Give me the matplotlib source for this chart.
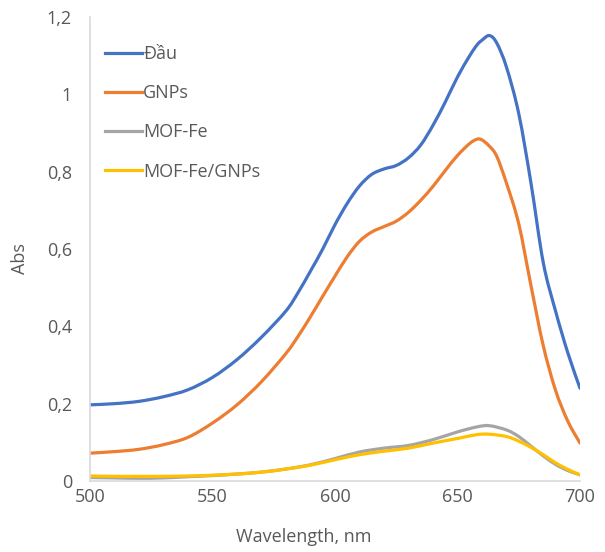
import matplotlib
matplotlib.use("Agg")
import numpy as np
import matplotlib.pyplot as plt
from matplotlib.path import Path
from matplotlib.patches import PathPatch
from matplotlib.lines import Line2D
from matplotlib.ticker import FuncFormatter, MultipleLocator

plt.rcParams['font.family'] = ['Open Sans', 'DejaVu Sans']

# wavelength grid for the two big curves
wl = [500, 510, 520, 530, 540, 550, 560, 570, 580, 585, 590, 595, 600, 605, 610,
      615, 620, 625, 630, 635, 640, 645, 650, 655, 658, 660, 663, 666, 670, 675,
      680, 685, 690, 695, 700]
dau = [0.197, 0.200, 0.206, 0.218, 0.236, 0.268, 0.314, 0.372, 0.440, 0.488,
       0.543, 0.600, 0.663, 0.718, 0.763, 0.793, 0.807, 0.816, 0.836, 0.869,
       0.920, 0.980, 1.045, 1.100, 1.128, 1.140, 1.152, 1.133, 1.070, 0.950,
       0.770, 0.565, 0.440, 0.332, 0.240]
gnps = [0.072, 0.076, 0.082, 0.094, 0.113, 0.150, 0.197, 0.257, 0.330, 0.375,
        0.425, 0.478, 0.530, 0.580, 0.620, 0.644, 0.658, 0.672, 0.695, 0.726,
        0.762, 0.803, 0.842, 0.873, 0.884, 0.882, 0.866, 0.840, 0.770, 0.665,
        0.505, 0.350, 0.235, 0.155, 0.098]

# coarser grid for the two low curves
wl_low = [500, 510, 520, 530, 540, 550, 560, 570, 580, 590, 600, 610, 620, 630,
          640, 650, 658, 663, 670, 675, 680, 685, 690, 695, 700]
mof_fe = [0.009, 0.008, 0.007, 0.008, 0.011, 0.014, 0.018, 0.023, 0.031, 0.042,
          0.058, 0.075, 0.085, 0.092, 0.107, 0.127, 0.140, 0.143, 0.132, 0.115,
          0.090, 0.065, 0.043, 0.027, 0.016]
mof_fe_gnps = [0.013, 0.012, 0.012, 0.012, 0.013, 0.015, 0.018, 0.023, 0.031,
               0.041, 0.055, 0.068, 0.077, 0.085, 0.098, 0.110, 0.120, 0.121,
               0.115, 0.103, 0.087, 0.068, 0.047, 0.030, 0.016]

series = [
    (wl, dau, 'Đầu', '#4472C4'),
    (wl, gnps, 'GNPs', '#ED7D31'),
    (wl_low, mof_fe, 'MOF-Fe', '#A5A5A5'),
    (wl_low, mof_fe_gnps, 'MOF-Fe/GNPs', '#FFC000'),
]

text_col = '#595959'
axis_col = '#d9d9d9'
fs = 13


def smooth_path(x, y):
    # Excel style smoothed line: Catmull-Rom segments as cubic Beziers
    p = np.column_stack([x, y]).astype(float)
    verts = [p[0]]
    codes = [Path.MOVETO]
    n = len(p)
    for i in range(n - 1):
        p0 = p[i - 1] if i > 0 else p[i]
        p3 = p[i + 2] if i + 2 < n else p[i + 1]
        c1 = p[i] + (p[i + 1] - p0) / 6
        c2 = p[i + 1] - (p3 - p[i]) / 6
        verts += [c1, c2, p[i + 1]]
        codes += [Path.CURVE4] * 3
    return Path(verts, codes)


fig = plt.figure(figsize=(6.05, 5.52), dpi=100)
ax = fig.add_axes([90/605, 71/552, 490/605, 464/552])

handles = []
for x, y, name, col in series:
    ax.add_patch(PathPatch(smooth_path(x, y), fill=False, edgecolor=col,
                           lw=2.3, capstyle='round'))
    handles.append(Line2D([], [], color=col, lw=2.3, label=name))

ax.set_xlim(500, 700)
ax.set_ylim(0, 1.2)
ax.xaxis.set_major_locator(MultipleLocator(50))
ax.yaxis.set_major_locator(MultipleLocator(0.2))


def comma_fmt(v, pos):
    if abs(v - round(v)) < 1e-9:
        return f"{int(round(v))}"
    return f"{v:.1f}".replace('.', ',')


ax.yaxis.set_major_formatter(FuncFormatter(comma_fmt))

for s in ['top', 'right']:
    ax.spines[s].set_visible(False)
for s in ['left', 'bottom']:
    ax.spines[s].set_color(axis_col)
    ax.spines[s].set_linewidth(1.2)

ax.tick_params(axis='both', length=0, labelsize=fs, colors=text_col)
ax.tick_params(axis='x', pad=5)
ax.tick_params(axis='y', pad=13)

ax.set_xlabel('Wavelength, nm', fontsize=fs, color=text_col)
ax.set_ylabel('Abs', fontsize=fs, color=text_col)
ax.xaxis.set_label_coords(0.436, -0.101)
ax.yaxis.set_label_coords(-0.124, 0.48)

leg = ax.legend(handles=handles, loc='upper left', bbox_to_anchor=(0.031, 0.94),
                frameon=False, fontsize=fs, handlelength=2.05, handletextpad=0.05,
                labelspacing=1.18, borderaxespad=0, borderpad=0)
for t in leg.get_texts():
    t.set_color(text_col)

fig.savefig('out.png', dpi=100)
